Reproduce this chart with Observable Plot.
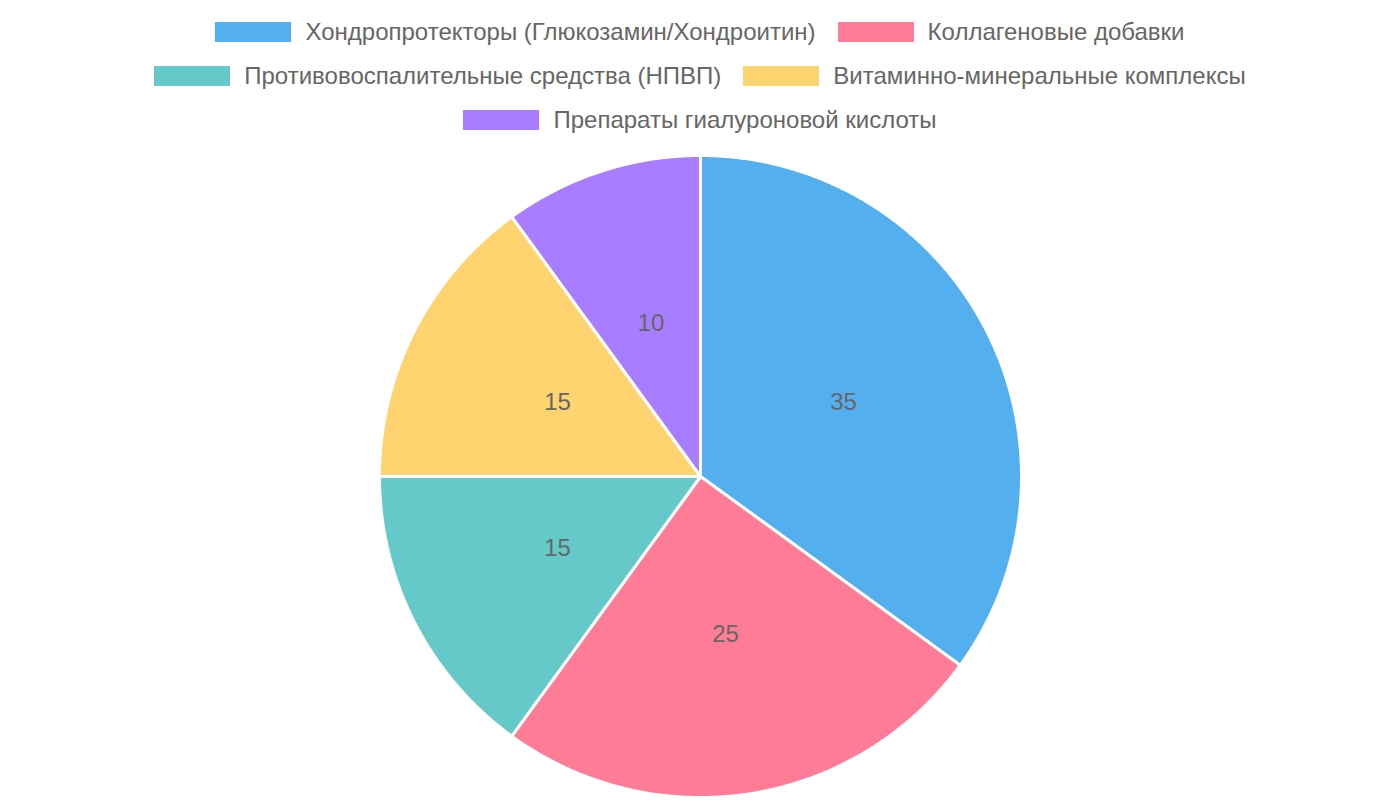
<!DOCTYPE html>
<html>
<head>
<meta charset="utf-8">
<script src="https://cdn.jsdelivr.net/npm/d3@7"></script>
<script src="https://cdn.jsdelivr.net/npm/@observablehq/plot@0.6"></script>
<style>
  html, body { margin: 0; padding: 0; background: #fff; }
  body { width: 1400px; height: 800px; overflow: hidden; font-family: "Liberation Sans", Arial, sans-serif; }
  #legend { height: 146px; box-sizing: border-box; padding-top: 10px; }
  .row { display: flex; justify-content: center; align-items: center; height: 44px; }
  .item { display: flex; align-items: center; margin: 0 11px; color: #666; font-size: 24px; white-space: nowrap; }
  .sw { width: 76px; height: 20px; margin-right: 14px; }
  #chart svg { display: block; }
</style>
</head>
<body>
<div id="legend"></div>
<div id="chart"></div>
<script>
const categories = [
  "Хондропротекторы (Глюкозамин/Хондроитин)",
  "Коллагеновые добавки",
  "Противовоспалительные средства (НПВП)",
  "Витаминно-минеральные комплексы",
  "Препараты гиалуроновой кислоты"
];
const values = [35, 25, 15, 15, 10];
const colors = ["#54AFEF", "#FF7C97", "#66C9C9", "#FFD470", "#A87DFF"];
const legendRows = [[0, 1], [2, 3], [4]];

// legend
const legend = document.getElementById("legend");
for (const row of legendRows) {
  const r = document.createElement("div");
  r.className = "row";
  for (const i of row) {
    const it = document.createElement("div");
    it.className = "item";
    const sw = document.createElement("span");
    sw.className = "sw";
    sw.style.background = colors[i];
    it.appendChild(sw);
    it.appendChild(document.createTextNode(categories[i]));
    r.appendChild(it);
  }
  legend.appendChild(r);
}

const W = 1400, H = 654, R = 321, CX = 700, CY = 330;

const arcs = d3.pie().sort(null).value(d => d)(values);
const polys = [];
const labels = [];
arcs.forEach((a, i) => {
  const name = categories[i];
  polys.push({name, x: 0, y: 0});
  const n = Math.max(2, Math.ceil((a.endAngle - a.startAngle) / 0.005));
  for (let k = 0; k <= n; k++) {
    const t = a.startAngle + (a.endAngle - a.startAngle) * k / n;
    polys.push({name, x: Math.sin(t), y: Math.cos(t)});
  }
  polys.push({name, x: 0, y: 0});
  const m = (a.startAngle + a.endAngle) / 2;
  labels.push({name, value: values[i], x: 0.5 * Math.sin(m), y: 0.5 * Math.cos(m)});
});

const chart = Plot.plot({
  width: W,
  height: H,
  margin: 0,
  x: {domain: [-CX / R, (W - CX) / R], axis: null},
  y: {domain: [-(H - CY) / R, CY / R], axis: null},
  color: {domain: categories, range: colors},
  style: {background: "#fff", fontFamily: "'Liberation Sans', Arial, sans-serif"},
  marks: [
    Plot.line(polys, {x: "x", y: "y", z: "name", fill: "name", stroke: "#fff", strokeWidth: 3, strokeLinejoin: "miter", curve: "linear"}),
    Plot.text(labels, {x: "x", y: "y", dy: -1, text: d => String(d.value), fill: "#666", fontSize: 24})
  ]
});
document.getElementById("chart").appendChild(chart);
</script>
</body>
</html>
